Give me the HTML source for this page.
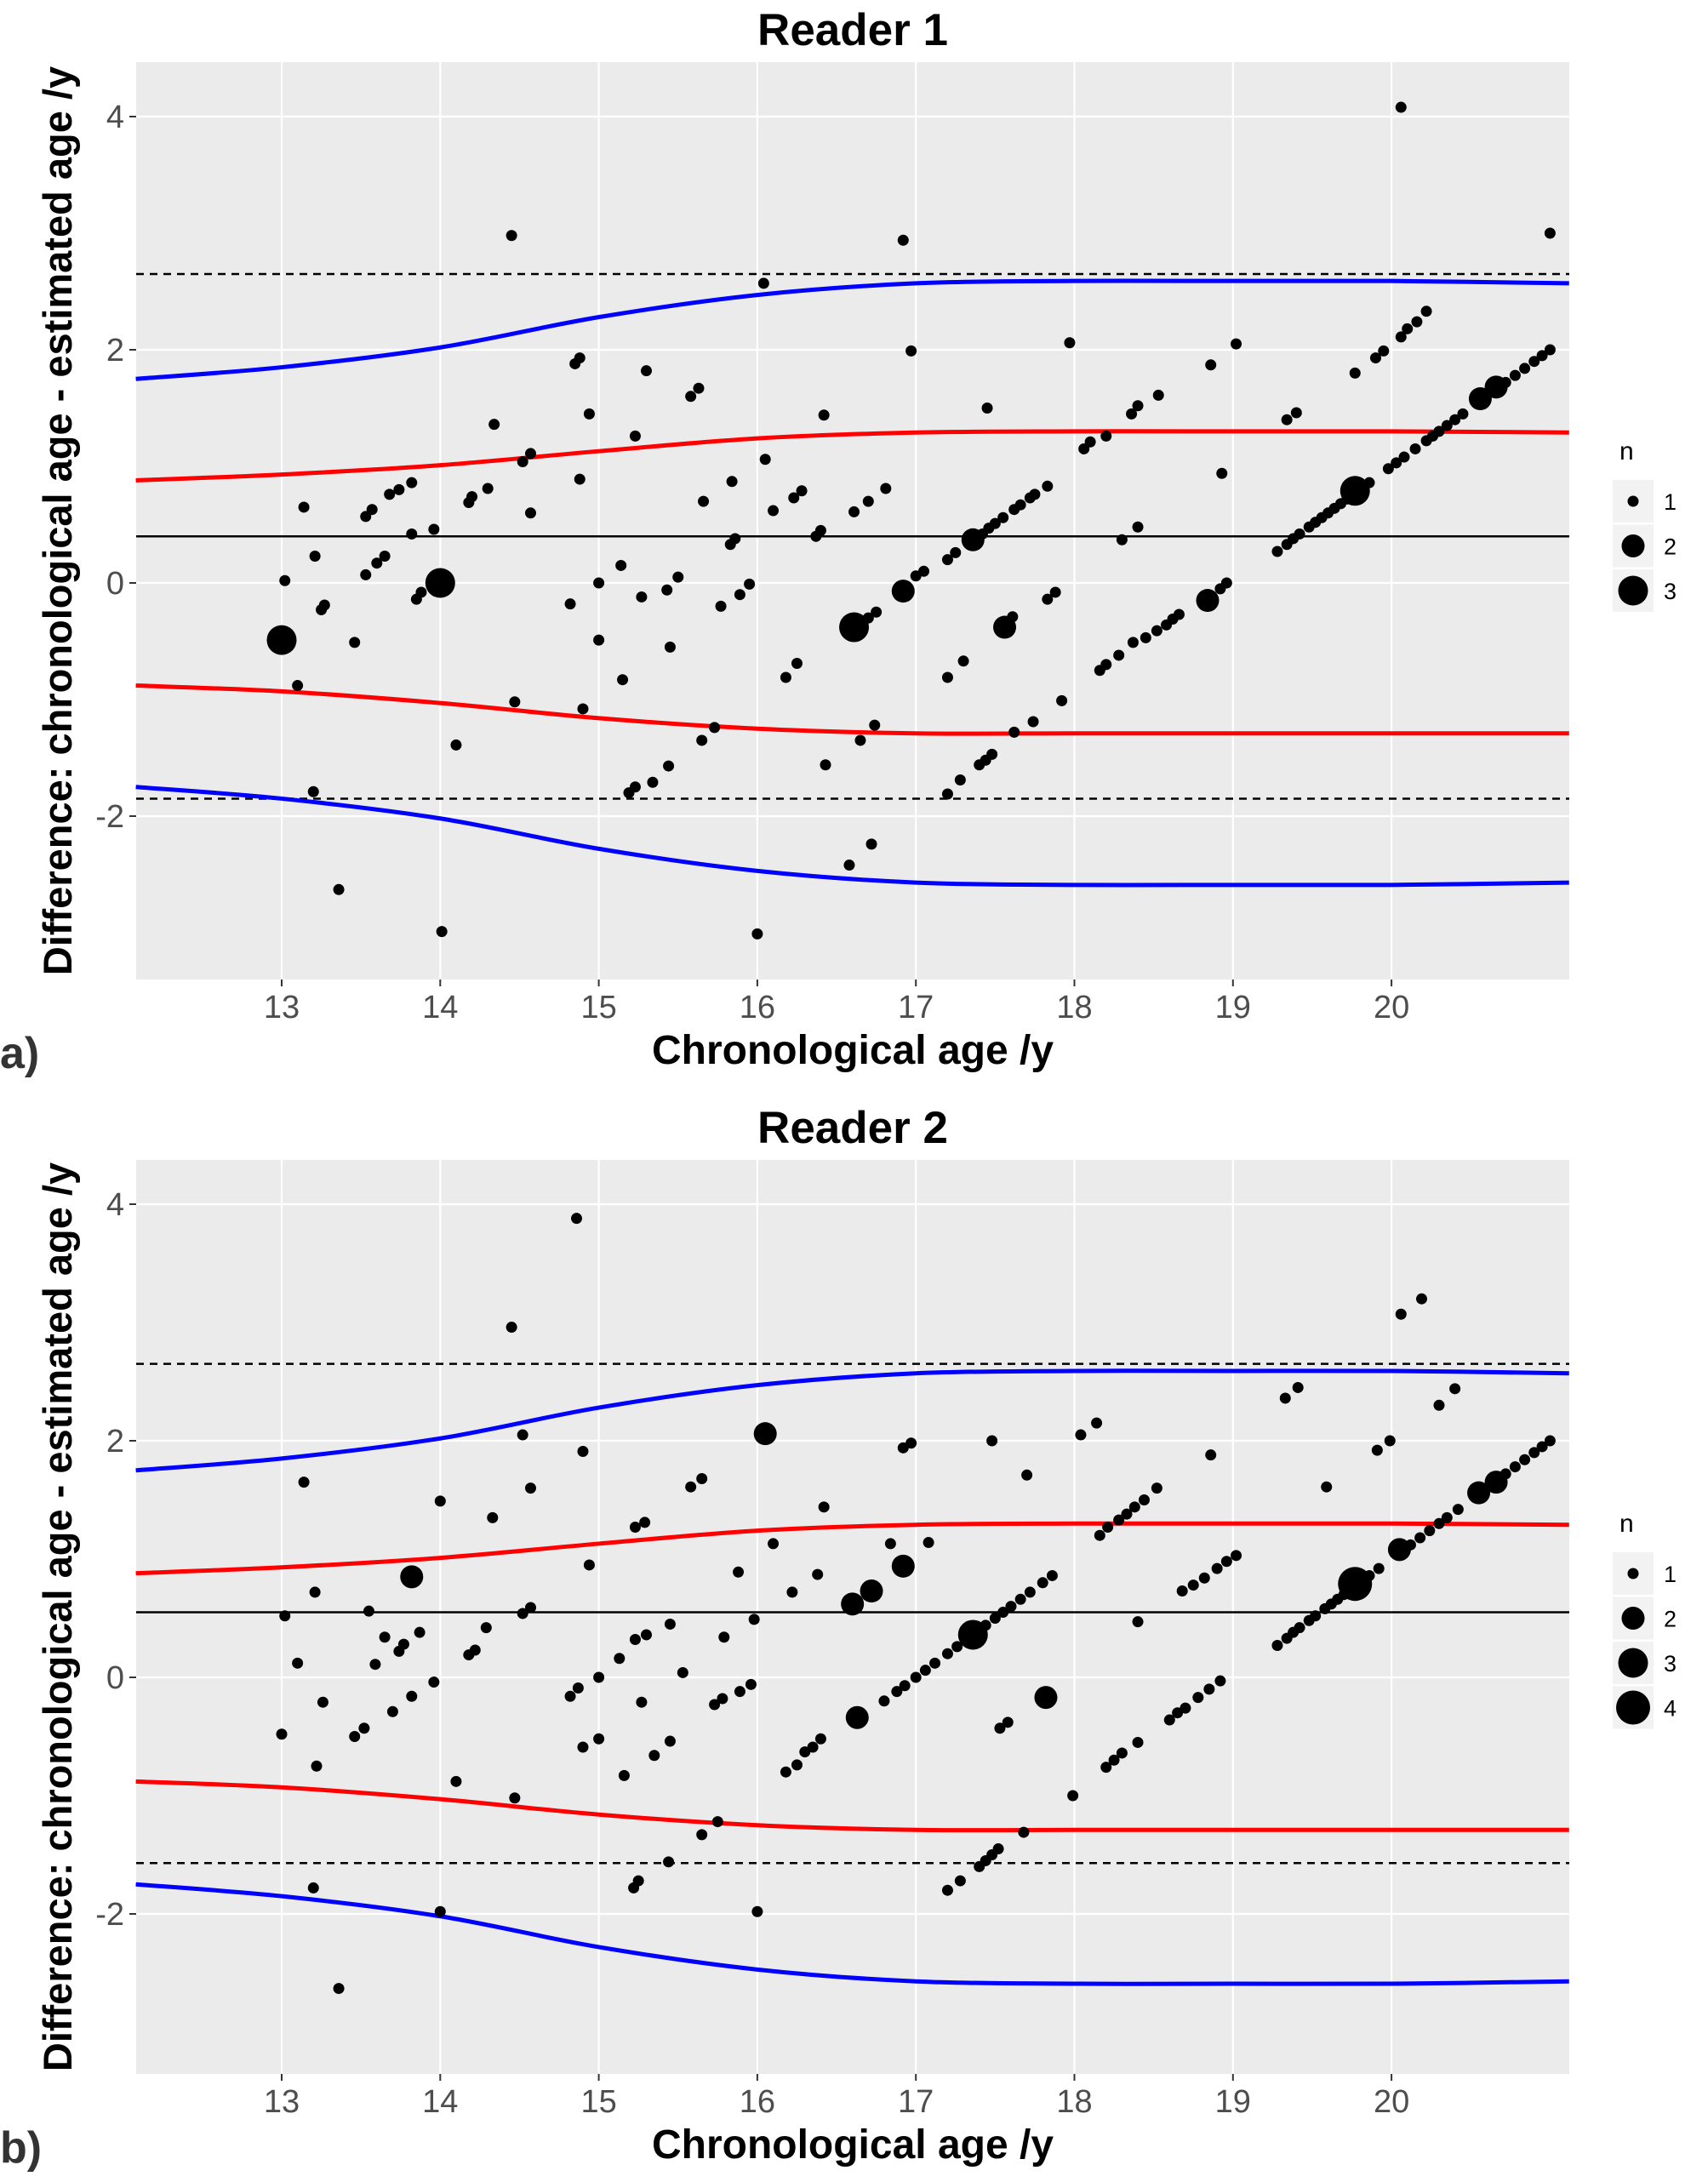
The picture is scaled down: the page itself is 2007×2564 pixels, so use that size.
<!DOCTYPE html>
<html><head><meta charset="utf-8"><style>
body{margin:0;background:#fff}
svg{display:block;font-family:"Liberation Sans",sans-serif}
</style></head><body>
<svg id="chart" width="2007" height="2564" viewBox="0 0 2007 2564" xmlns="http://www.w3.org/2000/svg"></svg>
<script>
// ---- data ----
const xTicks = [13,14,15,16,17,18,19,20];
const yTicks = [-2,0,2,4];
const curveAges = [12.08,13,14,15,16,17,18,19,20,21.12];
const blueUpper = [1.75,1.85,2.02,2.28,2.47,2.57,2.59,2.59,2.59,2.57];
const blueLower = [-1.75,-1.85,-2.02,-2.28,-2.47,-2.57,-2.59,-2.59,-2.59,-2.57];
const redUpper = [0.88,0.93,1.01,1.13,1.24,1.29,1.30,1.30,1.30,1.29];
const redLower = [-0.88,-0.93,-1.03,-1.16,-1.25,-1.29,-1.29,-1.29,-1.29,-1.29];
const r1Mean = 0.4, r1Upper = 2.65, r1Lower = -1.85;
const r2Mean = 0.55, r2Upper = 2.65, r2Lower = -1.57;
const r1Legend = [1,2,3];
const r2Legend = [1,2,3,4];
const r1Points = [
[13.02,0.02,1],[13.0,-0.49,3],[13.14,0.65,1],[13.1,-0.88,1],[13.21,0.23,1],[13.25,-0.23,1],[13.27,-0.19,1],[13.2,-1.79,1],[13.46,-0.51,1],[13.36,-2.63,1],
[13.53,0.57,1],[13.57,0.63,1],[13.53,0.07,1],[13.6,0.17,1],[13.65,0.23,1],[13.68,0.76,1],[13.74,0.8,1],[13.82,0.86,1],[13.82,0.42,1],[13.85,-0.14,1],[13.88,-0.08,1],[13.96,0.46,1],
[14.0,0.0,3],[14.1,-1.39,1],[14.01,-2.99,1],[14.18,0.69,1],[14.2,0.74,1],[14.3,0.81,1],[14.34,1.36,1],[14.45,2.98,1],[14.47,-1.02,1],[14.52,1.04,1],[14.57,1.11,1],[14.57,0.6,1],
[14.82,-0.18,1],[14.85,1.88,1],[14.88,1.93,1],[14.88,0.89,1],[14.94,1.45,1],[14.9,-1.08,1],[15.0,0.0,1],[15.0,-0.49,1],[15.14,0.15,1],[15.15,-0.83,1],[15.27,-0.12,1],[15.23,1.26,1],[15.3,1.82,1],
[15.19,-1.8,1],[15.23,-1.75,1],[15.34,-1.71,1],[15.44,-1.57,1],[15.43,-0.06,1],[15.5,0.05,1],[15.45,-0.55,1],[15.58,1.6,1],[15.63,1.67,1],[15.66,0.7,1],[15.65,-1.35,1],[15.73,-1.24,1],[15.77,-0.2,1],
[15.84,0.87,1],[15.83,0.33,1],[15.86,0.38,1],[15.89,-0.1,1],[15.95,-0.01,1],[16.0,-3.01,1],[16.04,2.57,1],[16.05,1.06,1],[16.1,0.62,1],[16.18,-0.81,1],[16.25,-0.69,1],[16.23,0.73,1],[16.28,0.79,1],
[16.37,0.4,1],[16.4,0.45,1],[16.42,1.44,1],[16.43,-1.56,1],[16.58,-2.42,1],[16.61,0.61,1],[16.61,-0.38,3],[16.65,-1.35,1],[16.72,-2.24,1],[16.7,0.7,1],[16.74,-1.22,1],[16.81,0.81,1],[16.92,2.94,1],[16.97,1.99,1],
[16.66,-0.33,1],[16.7,-0.3,1],[16.75,-0.25,1],[16.92,-0.07,2],[17.0,0.06,1],[17.05,0.1,1],[17.2,0.2,1],[17.25,0.26,1],[17.36,0.37,2],[17.42,0.42,1],[17.46,0.47,1],[17.5,0.51,1],[17.55,0.56,1],[17.62,0.63,1],[17.66,0.67,1],[17.72,0.73,1],[17.75,0.76,1],[17.83,0.83,1],
[17.2,-0.81,1],[17.3,-0.67,1],[17.45,1.5,1],[17.56,-0.38,2],[17.61,-0.29,1],[17.83,-0.14,1],[17.88,-0.08,1],[17.97,2.06,1],
[17.2,-1.81,1],[17.28,-1.69,1],[17.4,-1.56,1],[17.44,-1.52,1],[17.48,-1.47,1],[17.62,-1.28,1],[17.74,-1.19,1],[17.92,-1.01,1],[18.16,-0.75,1],[18.2,-0.7,1],[18.28,-0.62,1],[18.37,-0.51,1],[18.45,-0.47,1],[18.52,-0.41,1],[18.58,-0.36,1],[18.62,-0.31,1],[18.66,-0.27,1],[18.84,-0.15,2],[18.92,-0.05,1],[18.96,0.0,1],
[18.06,1.15,1],[18.1,1.21,1],[18.2,1.26,1],[18.36,1.45,1],[18.4,1.52,1],[18.53,1.61,1],[18.3,0.37,1],[18.4,0.48,1],[18.86,1.87,1],[18.93,0.94,1],[19.02,2.05,1],[19.34,1.4,1],[19.4,1.46,1],
[19.28,0.27,1],[19.34,0.33,1],[19.38,0.38,1],[19.42,0.42,1],[19.48,0.48,1],[19.52,0.52,1],[19.56,0.56,1],[19.6,0.6,1],[19.64,0.64,1],[19.68,0.68,1],[19.72,0.72,1],[19.77,0.79,3],[19.82,0.83,1],[19.86,0.86,1],[19.98,0.98,1],[20.03,1.03,1],[20.08,1.08,1],[20.15,1.15,1],[20.22,1.22,1],[20.26,1.26,1],[20.3,1.3,1],[20.35,1.35,1],[20.4,1.4,1],[20.45,1.45,1],[20.56,1.58,2],[20.66,1.68,2],[20.72,1.72,1],[20.78,1.78,1],[20.84,1.84,1],[20.9,1.9,1],[20.95,1.95,1],[21.0,2.0,1],
[19.77,1.8,1],[19.9,1.93,1],[19.95,1.99,1],[20.06,2.11,1],[20.1,2.18,1],[20.16,2.24,1],[20.22,2.33,1],[20.06,4.08,1],[21.0,3.0,1]
];
const r2Points = [
[13.0,-0.48,1],[13.02,0.52,1],[13.14,1.65,1],[13.1,0.12,1],[13.21,0.72,1],[13.22,-0.75,1],[13.26,-0.21,1],[13.2,-1.78,1],[13.36,-2.63,1],[13.46,-0.5,1],[13.52,-0.43,1],[13.55,0.56,1],[13.59,0.11,1],[13.65,0.34,1],
[13.7,-0.29,1],[13.74,0.22,1],[13.77,0.28,1],[13.82,-0.16,1],[13.82,0.85,2],[13.87,0.38,1],[13.96,-0.04,1],[14.0,1.49,1],[14.0,-1.98,1],[14.1,-0.88,1],[14.18,0.19,1],[14.22,0.23,1],[14.29,0.42,1],[14.33,1.35,1],
[14.45,2.96,1],[14.47,-1.02,1],[14.52,2.05,1],[14.52,0.54,1],[14.57,0.59,1],[14.57,1.6,1],[14.82,-0.16,1],[14.87,-0.09,1],[14.86,3.88,1],[14.9,1.91,1],[14.94,0.95,1],[14.9,-0.59,1],[15.0,-0.52,1],[15.0,0.0,1],
[15.13,0.16,1],[15.16,-0.83,1],[15.23,0.32,1],[15.3,0.36,1],[15.23,1.27,1],[15.29,1.31,1],[15.22,-1.78,1],[15.25,-1.72,1],[15.27,-0.21,1],[15.35,-0.66,1],[15.45,0.45,1],[15.45,-0.54,1],[15.44,-1.56,1],[15.53,0.04,1],
[15.58,1.61,1],[15.65,1.68,1],[15.65,-1.33,1],[15.73,-0.23,1],[15.78,-0.18,1],[15.79,0.34,1],[15.75,-1.22,1],[15.88,0.89,1],[15.89,-0.12,1],[15.96,-0.06,1],[16.0,-1.98,1],[15.98,0.49,1],[16.05,2.06,2],[16.1,1.13,1],
[16.18,-0.8,1],[16.22,0.72,1],[16.25,-0.74,1],[16.3,-0.63,1],[16.35,-0.59,1],[16.4,-0.52,1],[16.38,0.87,1],[16.42,1.44,1],[16.6,0.62,2],[16.63,-0.34,2],[16.72,0.73,2],[16.84,1.13,1],[16.92,0.94,2],[16.92,1.94,1],[16.97,1.98,1],
[16.8,-0.2,1],[16.88,-0.12,1],[16.93,-0.07,1],[17.0,0.0,1],[17.06,0.06,1],[17.12,0.12,1],[17.2,0.2,1],[17.26,0.26,1],[17.36,0.36,3],[17.44,0.44,1],[17.5,0.5,1],[17.55,0.55,1],[17.6,0.6,1],[17.66,0.66,1],[17.72,0.72,1],[17.8,0.8,1],[17.86,0.86,1],[17.08,1.14,1],
[17.2,-1.8,1],[17.28,-1.72,1],[17.4,-1.6,1],[17.44,-1.55,1],[17.48,-1.5,1],[17.52,-1.45,1],[17.48,2.0,1],[17.53,-0.43,1],[17.58,-0.38,1],[17.7,1.71,1],[17.68,-1.31,1],[17.82,-0.17,2],[17.99,-1.0,1],[18.04,2.05,1],[18.14,2.15,1],
[18.16,1.2,1],[18.21,1.27,1],[18.28,1.33,1],[18.33,1.38,1],[18.38,1.44,1],[18.44,1.5,1],[18.52,1.6,1],[18.86,1.88,1],
[18.2,-0.76,1],[18.25,-0.7,1],[18.3,-0.64,1],[18.4,-0.55,1],[18.6,-0.36,1],[18.65,-0.3,1],[18.7,-0.26,1],[18.78,-0.17,1],[18.85,-0.1,1],[18.92,-0.03,1],[18.4,0.47,1],
[18.68,0.73,1],[18.75,0.78,1],[18.82,0.84,1],[18.9,0.92,1],[18.96,0.98,1],[19.02,1.03,1],
[19.33,2.36,1],[19.41,2.45,1],[19.59,1.61,1],[19.91,1.92,1],[19.99,2.0,1],[20.06,3.07,1],[20.19,3.2,1],[20.3,2.3,1],[20.4,2.44,1],
[19.28,0.27,1],[19.34,0.33,1],[19.38,0.38,1],[19.42,0.42,1],[19.48,0.48,1],[19.52,0.52,1],[19.58,0.58,1],[19.62,0.62,1],[19.66,0.66,1],[19.7,0.7,1],[19.77,0.79,4],[19.86,0.86,1],[19.92,0.92,1],[20.05,1.08,2],[20.12,1.12,1],[20.18,1.18,1],[20.24,1.24,1],[20.3,1.3,1],[20.35,1.35,1],[20.42,1.42,1],[20.55,1.56,2],[20.66,1.65,2],[20.72,1.72,1],[20.78,1.78,1],[20.84,1.84,1],[20.9,1.9,1],[20.95,1.95,1],[21.0,2.0,1]
];
// ---- drawing ----
const NS = "http://www.w3.org/2000/svg";
const svg = document.getElementById('chart');
function mk(tag, attrs, parent){
  const e = document.createElementNS(NS, tag);
  for (const k in attrs) e.setAttribute(k, attrs[k]);
  (parent||svg).appendChild(e);
  return e;
}
const radii = [0,6.5,13.5,17.5,20];
function drawPanel(p){
  const xS = a => 331 + (a-13)*186.3;
  const yS = v => p.y0 - v*p.unit;
  const g = mk('g',{});
  
  
  const bg = mk('rect',{x:160,y:p.top,width:1684,height:p.bottom-p.top,fill:'#ebebeb'},g);
  
  
  xTicks.forEach(t=>{
    const l = mk('line',{x1:xS(t),x2:xS(t),y1:p.top,y2:p.bottom,stroke:'#fff','stroke-width':2.2},g);
    
    
    mk('line',{x1:xS(t),x2:xS(t),y1:p.bottom,y2:p.bottom+8,stroke:'#333','stroke-width':2},g);
    const tx = mk('text',{x:xS(t),y:p.bottom+45,'text-anchor':'middle','font-size':38,fill:'#4d4d4d'},g);
    tx.textContent = t;
    
    
  });
  yTicks.forEach(t=>{
    const l = mk('line',{x1:160,x2:1844,y1:yS(t),y2:yS(t),stroke:'#fff','stroke-width':2.2},g);
    
    
    mk('line',{x1:152,x2:160,y1:yS(t),y2:yS(t),stroke:'#333','stroke-width':2},g);
    const tx = mk('text',{x:146,y:yS(t)+13,'text-anchor':'end','font-size':38,fill:'#4d4d4d'},g);
    tx.textContent = t;
    
    
  });
  const lines = [[p.mean,'none','mean-line',2.5],[p.upper,'9 7','upper-limit-line',2.5],[p.lower,'9 7','lower-limit-line',2.5]];
  lines.forEach(L=>{
    const l = mk('line',{x1:160,x2:1844,y1:yS(L[0]),y2:yS(L[0]),stroke:'#000','stroke-width':L[3],'stroke-dasharray':L[1]},g);
    
    
  });
  const curves = [[blueUpper,'#0000ff','blue-upper-curve'],[blueLower,'#0000ff','blue-lower-curve'],[redUpper,'#ff0000','red-upper-curve'],[redLower,'#ff0000','red-lower-curve']];
  curves.forEach(C=>{
    const pts = curveAges.map((a,i)=>[xS(a),yS(C[0][i])]);
    let d = 'M'+pts[0][0]+','+pts[0][1];
    for(let i=0;i<pts.length-1;i++){
      const p0=pts[Math.max(i-1,0)],p1=pts[i],p2=pts[i+1],p3=pts[Math.min(i+2,pts.length-1)];
      const c1=[p1[0]+(p2[0]-p0[0])/6,p1[1]+(p2[1]-p0[1])/6];
      const c2=[p2[0]-(p3[0]-p1[0])/6,p2[1]-(p3[1]-p1[1])/6];
      d+=' C'+c1+' '+c2+' '+p2;
    }
    const path = mk('path',{d:d,fill:'none',stroke:C[1],'stroke-width':5},g);
    
    
  });
  p.points.forEach(pt=>{
    const c = mk('circle',{cx:xS(pt[0]),cy:yS(pt[1]),r:radii[pt[2]],fill:'#000'},g);
    
    
  });
  // titles
  const ti = mk('text',{x:1002,y:p.top-20,'text-anchor':'middle','font-size':53,'font-weight':'bold',fill:'#000'},g);
  ti.textContent = p.title;
  
  
  const xt = mk('text',{x:1002,y:p.bottom+99,'text-anchor':'middle','font-size':48,'font-weight':'bold',fill:'#000'},g);
  xt.textContent = 'Chronological age /y';
  
  
  const cy = (p.top+p.bottom)/2;
  const yt = mk('text',{x:0,y:0,transform:'translate(84,'+cy+') rotate(-90)','text-anchor':'middle','font-size':47,'font-weight':'bold',fill:'#000'},g);
  yt.textContent = 'Difference: chronological age - estimated age /y';
  
  
  const lab = mk('text',{x:0,y:p.bottom+104,'font-size':52,'font-weight':'bold',fill:'#333'},g);
  lab.textContent = p.label;
  
  
  // legend
  const lt = mk('text',{x:p.legX-14,y:p.legY,'font-size':30,fill:'#000'},g);
  lt.textContent = 'n';
  
  
  p.legend.forEach((n,i)=>{
    const ky = p.legY+49+i*52.5;
    const kr = mk('rect',{x:p.legX-22,y:ky-25,width:48,height:50,fill:'#f2f2f2'},g);
    
    
    const kc = mk('circle',{cx:p.legX+2,cy:ky,r:radii[n],fill:'#000'},g);
    
    
    const kt = mk('text',{x:p.legX+38,y:ky+10,'font-size':27,fill:'#000'},g);
    kt.textContent = n;
    
    
  });
}
drawPanel({name:'reader-1-panel',title:'Reader 1',label:'a)',top:73,bottom:1151,y0:685,unit:137,mean:r1Mean,upper:r1Upper,lower:r1Lower,points:r1Points,legend:r1Legend,legX:1917,legY:540});
drawPanel({name:'reader-2-panel',title:'Reader 2',label:'b)',top:1363,bottom:2437,y0:1971,unit:139,mean:r2Mean,upper:r2Upper,lower:r2Lower,points:r2Points,legend:r2Legend,legX:1917,legY:1800});
</script>
</body></html>
